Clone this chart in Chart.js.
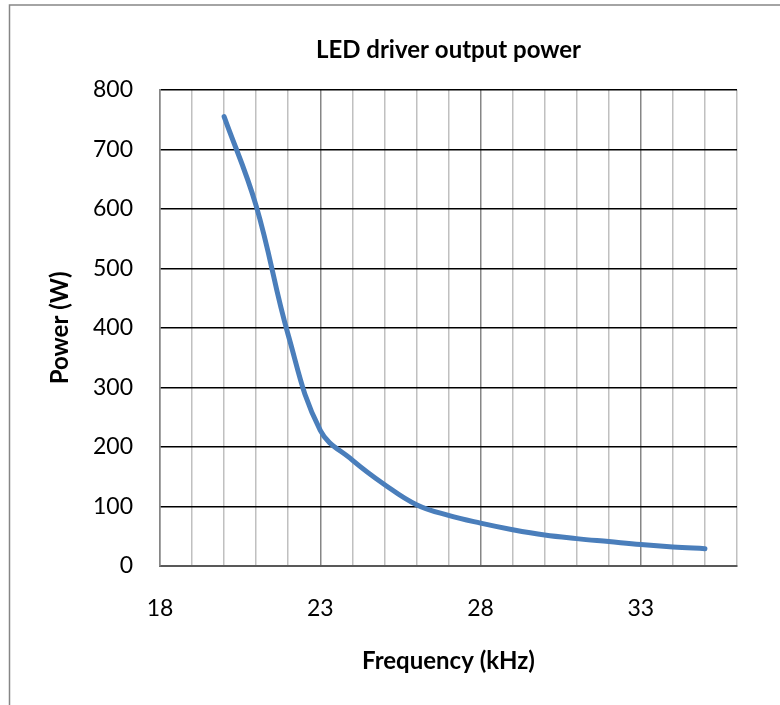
<!DOCTYPE html>
<html>
<head>
<meta charset="utf-8">
<script src="https://cdn.jsdelivr.net/npm/chart.js@4"></script>
<style>
  body { margin: 0; background: #fff; }
  #wrap { width: 780px; height: 705px; }
</style>
</head>
<body>
<div id="wrap"><canvas id="powerChart" width="780" height="705"></canvas></div>
<script>
const frequency = [20, 21, 22, 23, 24, 25, 26, 27, 28, 29, 30, 31, 32, 33, 34, 35];
const power = [755, 605, 388, 228, 178, 137, 103, 85, 72, 61, 52, 46, 41, 36, 32, 29];
const xLabels = [18, 23, 28, 33];

const points = frequency.map((f, i) => ({ x: f, y: power[i] }));

// grey frame on the left and top like the spreadsheet chart area
const frame = {
    id: 'frame',
    beforeDraw(chart) {
        const c = chart.ctx;
        c.save();
        c.fillStyle = '#fff';
        c.fillRect(0, 0, chart.width, chart.height);
        c.strokeStyle = '#868686';
        c.lineWidth = 1.5;
        c.beginPath();
        c.moveTo(9.5, chart.height);
        c.lineTo(9.5, 5);
        c.lineTo(chart.width, 5);
        c.stroke();
        c.restore();
    }
};

const ctx = document.getElementById('powerChart').getContext('2d');
const powerChart = new Chart(ctx, {
    type: 'scatter',
    data: {
        datasets: [{
            label: 'Power',
            data: points,
            showLine: true,
            borderColor: '#4a7ebb',
            borderWidth: 5,
            borderCapStyle: 'round',
            pointRadius: 0,
            tension: 0.4,
            fill: false
        }]
    },
    options: {
        responsive: false,
        animation: false,
        layout: { padding: { left: 0, right: 43, top: 0, bottom: 0 } },
        plugins: {
            legend: { display: false },
            tooltip: { enabled: false },
            title: {
                display: true,
                text: 'LED driver output power',
                color: '#000',
                fullSize: false,
                font: { family: 'Lato', size: 24, weight: 'bold' },
                padding: { top: 36, bottom: 25 }
            }
        },
        scales: {
            x: {
                type: 'linear',
                min: 18,
                max: 36,
                afterFit: s => { s.height = 139; },
                ticks: {
                    stepSize: 1,
                    autoSkip: false,
                    maxRotation: 0,
                    padding: 29,
                    color: '#000',
                    font: { family: 'Lato', size: 23 },
                    callback: v => xLabels.includes(v) ? v : ''
                },
                grid: {
                    drawTicks: false,
                    lineWidth: 1.5,
                    color: c => xLabels.includes(c.tick.value) ? '#868686' : '#c0c0c0'
                },
                border: { color: '#595959', width: 2 },
                title: {
                    display: true,
                    text: 'Frequency (kHz)',
                    color: '#000',
                    font: { family: 'Lato', size: 24, weight: 'bold' },
                    padding: { top: 0, bottom: 29 }
                }
            },
            y: {
                min: 0,
                max: 800,
                afterFit: s => { s.width = 160; },
                ticks: {
                    stepSize: 100,
                    padding: 27,
                    color: '#000',
                    font: { family: 'Lato', size: 23 }
                },
                grid: {
                    drawTicks: false,
                    lineWidth: 1.5,
                    color: '#000'
                },
                border: { color: '#868686', width: 1.5 },
                title: {
                    display: true,
                    text: 'Power (W)',
                    color: '#000',
                    font: { family: 'Lato', size: 24, weight: 'bold' },
                    padding: { top: 46, bottom: 0 }
                }
            }
        }
    },
    plugins: [frame]
});
</script>
</body>
</html>
